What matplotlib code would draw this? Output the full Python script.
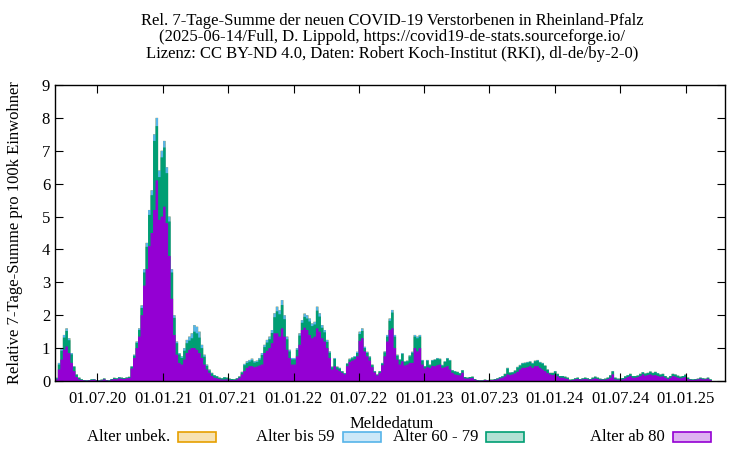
"""Rel. 7-Tage-Summe der COVID-19 Verstorbenen in Rheinland-Pfalz, gestapelt nach Alter."""
import matplotlib
matplotlib.use("Agg")
import matplotlib.dates as mdates  # noqa
import matplotlib.pyplot as plt  # noqa
from matplotlib.patches import Rectangle  # noqa
import numpy as np
import pandas as pd

plt.rcParams["font.family"] = ["Liberation Serif", "DejaVu Serif"]

START = "2020-03-06"  # first weekly box

# total height of the stack (all ages), one value per week
ALLE = [
    0.1, 0.55, 1.0, 1.4, 1.6, 1.3, 0.85, 0.45, 0.2, 0.1,
    0.05, 0.03, 0.02, 0.03, 0.05, 0.06, 0.03, 0.02, 0.04, 0.08,
    0.03, 0.02, 0.06, 0.1, 0.08, 0.12, 0.1, 0.09, 0.11, 0.13,
    0.45, 0.8, 1.2, 1.6, 2.3, 3.4, 4.2, 5.2, 5.8, 7.5,
    8.0, 6.4, 7.0, 7.3, 6.5, 5.0, 3.4, 2.0, 1.2, 0.85,
    0.75, 1.0, 1.25, 1.35, 1.45, 1.7, 1.65, 1.5, 1.1, 0.8,
    0.5, 0.35, 0.25, 0.18, 0.15, 0.1, 0.08, 0.12, 0.1, 0.07,
    0.06, 0.05, 0.08, 0.14, 0.28, 0.52, 0.6, 0.64, 0.68, 0.6,
    0.62, 0.7, 0.85, 1.1, 1.25, 1.35, 1.55, 2.06, 2.26, 2.15,
    2.46, 2.0, 1.35, 0.95, 0.7, 0.7, 1.0, 1.45, 1.85, 2.05,
    2.0, 1.9, 1.75, 1.8, 2.26, 2.06, 1.7, 1.55, 1.25, 0.9,
    0.44, 0.7, 0.44, 0.4, 0.3, 0.24, 0.54, 0.68, 0.72, 0.76,
    0.89, 1.5, 1.6, 1.04, 0.89, 0.75, 0.5, 0.3, 0.2, 0.3,
    0.55, 0.9, 1.4, 1.9, 2.16, 1.4, 0.8, 0.66, 0.85, 0.6,
    0.62, 0.78, 0.89, 1.4, 1.35, 1.4, 0.64, 0.45, 0.64, 0.5,
    0.64, 0.66, 0.7, 0.68, 0.49, 0.6, 0.7, 0.64, 0.33, 0.3,
    0.28, 0.24, 0.33, 0.12, 0.1, 0.12, 0.13, 0.06, 0.03, 0.02,
    0.02, 0.04, 0.03, 0.04, 0.04, 0.06, 0.08, 0.12, 0.15, 0.22,
    0.4, 0.26, 0.27, 0.32, 0.43, 0.49, 0.55, 0.56, 0.58, 0.6,
    0.55, 0.62, 0.64, 0.58, 0.55, 0.47, 0.35, 0.25, 0.25, 0.3,
    0.22, 0.15, 0.15, 0.13, 0.1, 0.04, 0.05, 0.08, 0.1, 0.06,
    0.08, 0.1, 0.08, 0.06, 0.1, 0.13, 0.1, 0.07, 0.06, 0.07,
    0.1, 0.17, 0.3, 0.1, 0.07, 0.07, 0.09, 0.14, 0.18, 0.22,
    0.15, 0.15, 0.17, 0.22, 0.27, 0.23, 0.25, 0.29, 0.25, 0.28,
    0.24, 0.2, 0.22, 0.15, 0.1, 0.15, 0.22, 0.2, 0.16, 0.13,
    0.15, 0.19, 0.1, 0.06, 0.05, 0.06, 0.07, 0.1, 0.08, 0.07,
    0.1, 0.05,
]

# Alter ab 80
AB80 = [
    0.05, 0.35, 0.65, 0.95, 1.05, 0.85, 0.55, 0.3, 0.12, 0.05,
    0.03, 0.02, 0.01, 0.02, 0.03, 0.04, 0.02, 0.01, 0.02, 0.05,
    0.02, 0.01, 0.04, 0.06, 0.05, 0.08, 0.07, 0.06, 0.08, 0.09,
    0.38, 0.7, 1.0, 1.35, 2.0, 2.9, 3.4, 4.1, 4.5, 5.2,
    6.1, 4.9, 5.0, 5.3, 4.8, 3.8, 2.5, 1.4, 0.8, 0.55,
    0.5, 0.65, 0.85, 0.95, 1.0, 1.0, 0.95, 0.85, 0.7, 0.5,
    0.35, 0.25, 0.15, 0.1, 0.08, 0.06, 0.04, 0.04, 0.05, 0.04,
    0.03, 0.03, 0.05, 0.1, 0.2, 0.3, 0.4, 0.45, 0.45, 0.42,
    0.44, 0.47, 0.5, 0.85, 0.92, 1.0, 1.15, 1.45, 1.45, 1.35,
    1.6, 1.35, 0.95, 0.7, 0.5, 0.5, 0.75, 1.1, 1.55, 1.62,
    1.55, 1.4, 1.3, 1.35, 1.6, 1.5, 1.3, 1.2, 1.0, 0.7,
    0.35, 0.45, 0.35, 0.3, 0.25, 0.2, 0.45, 0.58, 0.62, 0.66,
    0.75, 1.22, 1.3, 0.9, 0.75, 0.62, 0.42, 0.26, 0.17, 0.25,
    0.48, 0.75, 1.2, 1.55, 1.6, 1.0, 0.65, 0.5, 0.6, 0.47,
    0.5, 0.55, 0.55, 1.0, 0.9, 1.0, 0.5, 0.38, 0.42, 0.4,
    0.46, 0.45, 0.48, 0.5, 0.4, 0.42, 0.45, 0.35, 0.25, 0.2,
    0.18, 0.17, 0.25, 0.08, 0.07, 0.08, 0.09, 0.04, 0.02, 0.01,
    0.01, 0.03, 0.02, 0.03, 0.03, 0.04, 0.05, 0.08, 0.1, 0.14,
    0.2, 0.18, 0.2, 0.23, 0.28, 0.35, 0.4, 0.4, 0.42, 0.45,
    0.4, 0.45, 0.45, 0.4, 0.35, 0.3, 0.24, 0.2, 0.18, 0.2,
    0.14, 0.1, 0.1, 0.08, 0.06, 0.02, 0.03, 0.05, 0.06, 0.04,
    0.05, 0.06, 0.05, 0.04, 0.06, 0.08, 0.06, 0.04, 0.04, 0.04,
    0.06, 0.1, 0.2, 0.05, 0.04, 0.04, 0.05, 0.08, 0.12, 0.15,
    0.1, 0.1, 0.12, 0.15, 0.2, 0.16, 0.18, 0.2, 0.17, 0.18,
    0.15, 0.13, 0.14, 0.1, 0.06, 0.1, 0.15, 0.13, 0.1, 0.08,
    0.1, 0.12, 0.06, 0.04, 0.03, 0.04, 0.05, 0.07, 0.05, 0.05,
    0.07, 0.03,
]

# Alter bis 59
BIS59 = [
    0.02, 0.05, 0.08, 0.08, 0.08, 0.06, 0.04, 0.02, 0.01, 0.0,
    0.0, 0.0, 0.0, 0.0, 0.0, 0.01, 0.0, 0.0, 0.0, 0.01,
    0.0, 0.0, 0.0, 0.01, 0.0, 0.01, 0.0, 0.0, 0.01, 0.01,
    0.02, 0.03, 0.04, 0.05, 0.08, 0.1, 0.12, 0.15, 0.15, 0.2,
    0.25, 0.2, 0.2, 0.2, 0.18, 0.15, 0.1, 0.08, 0.05, 0.04,
    0.05, 0.08, 0.1, 0.12, 0.15, 0.2, 0.2, 0.18, 0.1, 0.06,
    0.04, 0.03, 0.02, 0.01, 0.01, 0.0, 0.0, 0.01, 0.0, 0.0,
    0.0, 0.0, 0.0, 0.01, 0.02, 0.04, 0.05, 0.05, 0.05, 0.04,
    0.04, 0.05, 0.06, 0.07, 0.08, 0.08, 0.09, 0.12, 0.14, 0.12,
    0.15, 0.12, 0.08, 0.05, 0.04, 0.04, 0.05, 0.07, 0.08, 0.1,
    0.1, 0.09, 0.08, 0.08, 0.12, 0.1, 0.08, 0.07, 0.06, 0.04,
    0.02, 0.03, 0.02, 0.02, 0.01, 0.01, 0.02, 0.03, 0.03, 0.03,
    0.04, 0.07, 0.08, 0.04, 0.03, 0.03, 0.02, 0.01, 0.01, 0.01,
    0.02, 0.03, 0.05, 0.07, 0.08, 0.05, 0.03, 0.02, 0.03, 0.02,
    0.02, 0.03, 0.03, 0.05, 0.05, 0.05, 0.02, 0.01, 0.02, 0.02,
    0.02, 0.02, 0.02, 0.02, 0.02, 0.02, 0.02, 0.02, 0.01, 0.01,
    0.01, 0.01, 0.01, 0.0, 0.0, 0.0, 0.0, 0.0, 0.0, 0.0,
    0.0, 0.0, 0.0, 0.0, 0.0, 0.0, 0.0, 0.01, 0.01, 0.01,
    0.02, 0.01, 0.01, 0.01, 0.02, 0.02, 0.02, 0.02, 0.02, 0.02,
    0.02, 0.02, 0.02, 0.02, 0.02, 0.01, 0.01, 0.01, 0.01, 0.01,
    0.01, 0.0, 0.0, 0.0, 0.0, 0.0, 0.0, 0.0, 0.0, 0.0,
    0.0, 0.0, 0.0, 0.0, 0.0, 0.0, 0.0, 0.0, 0.0, 0.0,
    0.0, 0.0, 0.01, 0.0, 0.0, 0.0, 0.0, 0.0, 0.01, 0.01,
    0.0, 0.0, 0.01, 0.01, 0.01, 0.01, 0.01, 0.01, 0.01, 0.01,
    0.01, 0.01, 0.01, 0.0, 0.0, 0.0, 0.01, 0.01, 0.0, 0.0,
    0.0, 0.0, 0.0, 0.0, 0.0, 0.0, 0.0, 0.0, 0.0, 0.0,
    0.0, 0.0,
]

# Alter unbekannt: nothing visible in the chart
UNBEK = [0.0] * len(ALLE)

X_TICKS = ["2020-07-01", "2021-01-01", "2021-07-01", "2022-01-01", "2022-07-01",
           "2023-01-01", "2023-07-01", "2024-01-01", "2024-07-01", "2025-01-01"]

LABELS = ["Alter unbek.", "Alter bis 59", "Alter 60 - 79", "Alter ab 80"]
COLORS = ["#E69F00", "#56B4E9", "#009E73", "#9400D3"]

assert len(AB80) == len(ALLE) == len(BIS59)

weeks = pd.date_range(START, periods=len(ALLE) + 1, freq="7D")
ab80 = np.array(AB80)
bis59 = np.array(BIS59)
unbek = np.array(UNBEK)
g6079 = np.clip(np.array(ALLE) - ab80 - bis59 - unbek, 0, None)

# gnuplot-like: draw cumulative sums from 0, largest first, each one over the last
cum = [ab80 + g6079 + bis59 + unbek, ab80 + g6079 + bis59, ab80 + g6079, ab80]
cum_colors = [COLORS[0], COLORS[1], COLORS[2], COLORS[3]]

fig = plt.figure(figsize=(7.5, 4.5), dpi=100)
axis = fig.add_axes([55 / 750, 69 / 450, 670 / 750, 296 / 450])

for vals, col in zip(cum, cum_colors):
    axis.fill_between(weeks, 0, np.append(vals, vals[-1]), step="post",
                      facecolor=col, linewidth=0)

axis.set_xlim(pd.Timestamp("2020-03-05"), pd.Timestamp("2025-04-20"))
axis.set_ylim(0, 9)
axis.set_yticks(range(10))
axis.set_xticks(pd.to_datetime(X_TICKS))
axis.xaxis.set_major_formatter(mdates.DateFormatter("%d.%m.%y"))
axis.tick_params(direction="in", top=True, right=True, length=6, width=0.8,
                 labelsize=12)
axis.tick_params(axis="x", pad=7)
for sp in axis.spines.values():
    sp.set_linewidth(1.0)

fig.text(392 / 750, 1 - 13 / 450,
         "Rel. 7-Tage-Summe der neuen COVID-19 Verstorbenen in Rheinland-Pfalz\n"
         "(2025-06-14/Full, D. Lippold, https://covid19-de-stats.sourceforge.io/\n"
         "Lizenz: CC BY-ND 4.0, Daten: Robert Koch-Institut (RKI), dl-de/by-2-0)",
         ha="center", va="top", fontsize=12, linespacing=1.04)
fig.text(15 / 750, 217 / 450, "Relative 7-Tage-Summe pro 100k Einwohner",
         rotation=90, ha="center", va="center", fontsize=12)
fig.text(392 / 750, 1 - 424 / 450, "Meldedatum", ha="center", va="center", fontsize=12)

# key: text right-justified, sample box after it
key_ends = [170, 335, 478, 665]
for name, col, xe in zip(LABELS, COLORS, key_ends):
    fig.text(xe / 750, 1 - 437 / 450, name, ha="right", va="center", fontsize=12)
    fig.patches.append(Rectangle(((xe + 8) / 750, 1 - 442 / 450), 38 / 750, 10 / 450,
                                 transform=fig.transFigure, facecolor=col, alpha=0.3,
                                 edgecolor="none"))
    fig.patches.append(Rectangle(((xe + 8) / 750, 1 - 442 / 450), 38 / 750, 10 / 450,
                                 transform=fig.transFigure, facecolor="none",
                                 edgecolor=col, linewidth=1.2))

fig.savefig("out.png", dpi=100)
